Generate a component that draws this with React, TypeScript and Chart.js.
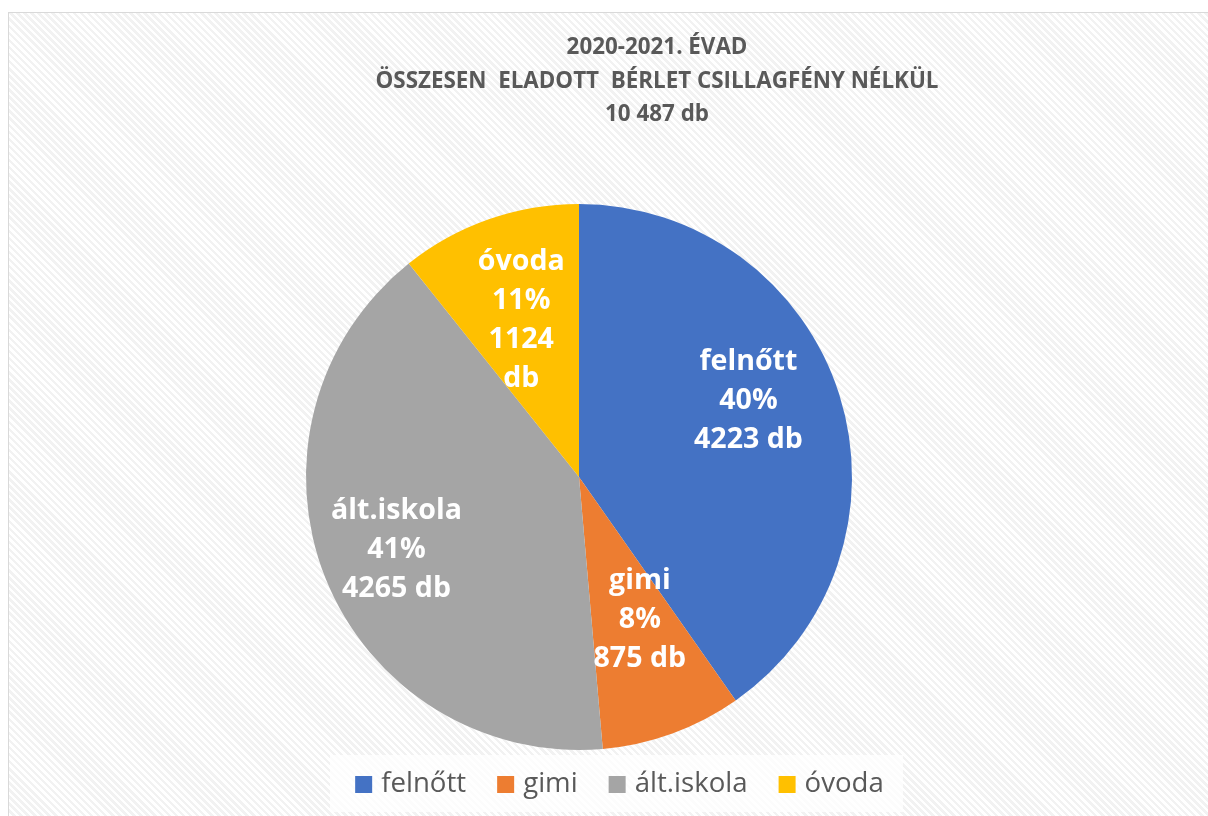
import React, { useEffect, useRef } from "react";
import { Chart, registerables } from "chart.js";

Chart.register(...registerables);

const categories = ["felnőtt", "gimi", "ált.iskola", "óvoda"];
const values = [4223, 875, 4265, 1124];
const colors = ["#4472C4", "#ED7D31", "#A5A5A5", "#FFC000"];
const titleLines = ["2020-2021. ÉVAD", "ÖSSZESEN  ELADOTT  BÉRLET CSILLAGFÉNY NÉLKÜL", "10 487 db"];
const unit = "db";

// label layout (radial fraction of radius, angular shift in degrees, whether the value wraps)
const labelRadius = [0.68, 0.57, 0.72, 0.61];
const labelShift = [-6.6, -3, 0, -1];
const labelWrap = [false, false, false, true];

const FONT = "'Open Sans', 'Noto Sans', sans-serif";
const TEXT = "#595959";

const overlayPlugin = {
  id: "overlay",
  afterDatasetsDraw(chart: any) {
    const ctx = chart.ctx as CanvasRenderingContext2D;
    const meta = chart.getDatasetMeta(0);
    const data = chart.data.datasets[0].data as number[];
    const total = data.reduce((a, b) => a + b, 0);
    ctx.save();
    // slice labels
    ctx.fillStyle = "#ffffff";
    ctx.textAlign = "center";
    ctx.textBaseline = "middle";
    ctx.font = `bold 25px ${FONT}`;
    const fw0 = ctx.measureText(categories[0]).width;
    const labSize = 25 * (98 / fw0);
    ctx.font = `bold ${labSize.toFixed(2)}px ${FONT}`;
    meta.data.forEach((arc: any, i: number) => {
      const { x, y, startAngle, endAngle, outerRadius } = arc.getProps(
        ["x", "y", "startAngle", "endAngle", "outerRadius"],
        true
      );
      const mid = (startAngle + endAngle) / 2 + (labelShift[i] * Math.PI) / 180;
      const r = outerRadius * labelRadius[i];
      const cx = x + Math.cos(mid) * r;
      const cy = y + Math.sin(mid) * r;
      const pct = Math.round((data[i] / total) * 100) + "%";
      const lines = labelWrap[i]
        ? [chart.data.labels[i], pct, String(data[i]), unit]
        : [chart.data.labels[i], pct, `${data[i]} ${unit}`];
      const lh = 39;
      const y0 = cy - ((lines.length - 1) * lh) / 2;
      lines.forEach((t: string, k: number) => ctx.fillText(t, cx, y0 + k * lh));
    });

    // title
    ctx.fillStyle = TEXT;
    ctx.font = `bold 20px ${FONT}`;
    const w = ctx.measureText(titleLines[1]).width;
    const size = 20 * (563 / w);
    ctx.font = `bold ${size.toFixed(2)}px ${FONT}`;
    const titleY = [35, 69, 102];
    titleLines.forEach((t, k) => ctx.fillText(t, 648, titleY[k]));

    // legend
    const bx = 321, by = 742, bw = 573, bh = 57;
    ctx.fillStyle = "rgba(255,255,255,0.72)";
    ctx.fillRect(bx, by, bw, bh);
    ctx.font = `24px ${FONT}`;
    const fw = ctx.measureText(categories[0]).width;
    const lsize = 24 * (85 / fw);
    ctx.font = `${lsize.toFixed(2)}px ${FONT}`;
    const sq = 17, gap = 9, spacing = 31;
    const widths = (chart.data.labels as string[]).map((l) => sq + gap + ctx.measureText(l).width);
    const totalW = widths.reduce((a, b) => a + b, 0) + spacing * (widths.length - 1);
    let lx = bx + bw / 2 - totalW / 2 + 3;
    const ly = by + bh / 2;
    ctx.textAlign = "left";
    (chart.data.labels as string[]).forEach((l, i) => {
      ctx.fillStyle = colors[i];
      ctx.fillRect(lx, ly - sq / 2 + 1, sq, sq);
      ctx.fillStyle = TEXT;
      ctx.fillText(l, lx + sq + gap, ly + 1);
      lx += widths[i] + spacing;
    });
    ctx.restore();
  },
};

export default function App() {
  const ref = useRef<HTMLCanvasElement>(null);
  useEffect(() => {
    if (!ref.current) return;
    const chart = new Chart(ref.current, {
      type: "pie",
      data: {
        labels: categories,
        datasets: [
          {
            data: values,
            backgroundColor: colors,
            borderWidth: 0,
          },
        ],
      },
      options: {
        animation: false,
        responsive: false,
        layout: { padding: { left: 297, right: 356, top: 191, bottom: 66 } },
        plugins: {
          legend: { display: false },
          title: { display: false },
          tooltip: { enabled: false },
        },
      },
      plugins: [overlayPlugin],
    });
    return () => chart.destroy();
  }, []);

  return (
    <div
      style={{
        position: "fixed",
        left: 8,
        top: 12,
        width: 1200,
        height: 804,
        borderTop: "1px solid #d9d9d9",
        borderLeft: "1px solid #d9d9d9",
        boxSizing: "border-box",
        background:
          "repeating-linear-gradient(45deg, #ffffff 0px, #ffffff 2.5px, #f2f2f2 2.5px, #f2f2f2 5px)",
      }}
    >
      <canvas ref={ref} width={1199} height={803} style={{ display: "block" }} />
    </div>
  );
}
